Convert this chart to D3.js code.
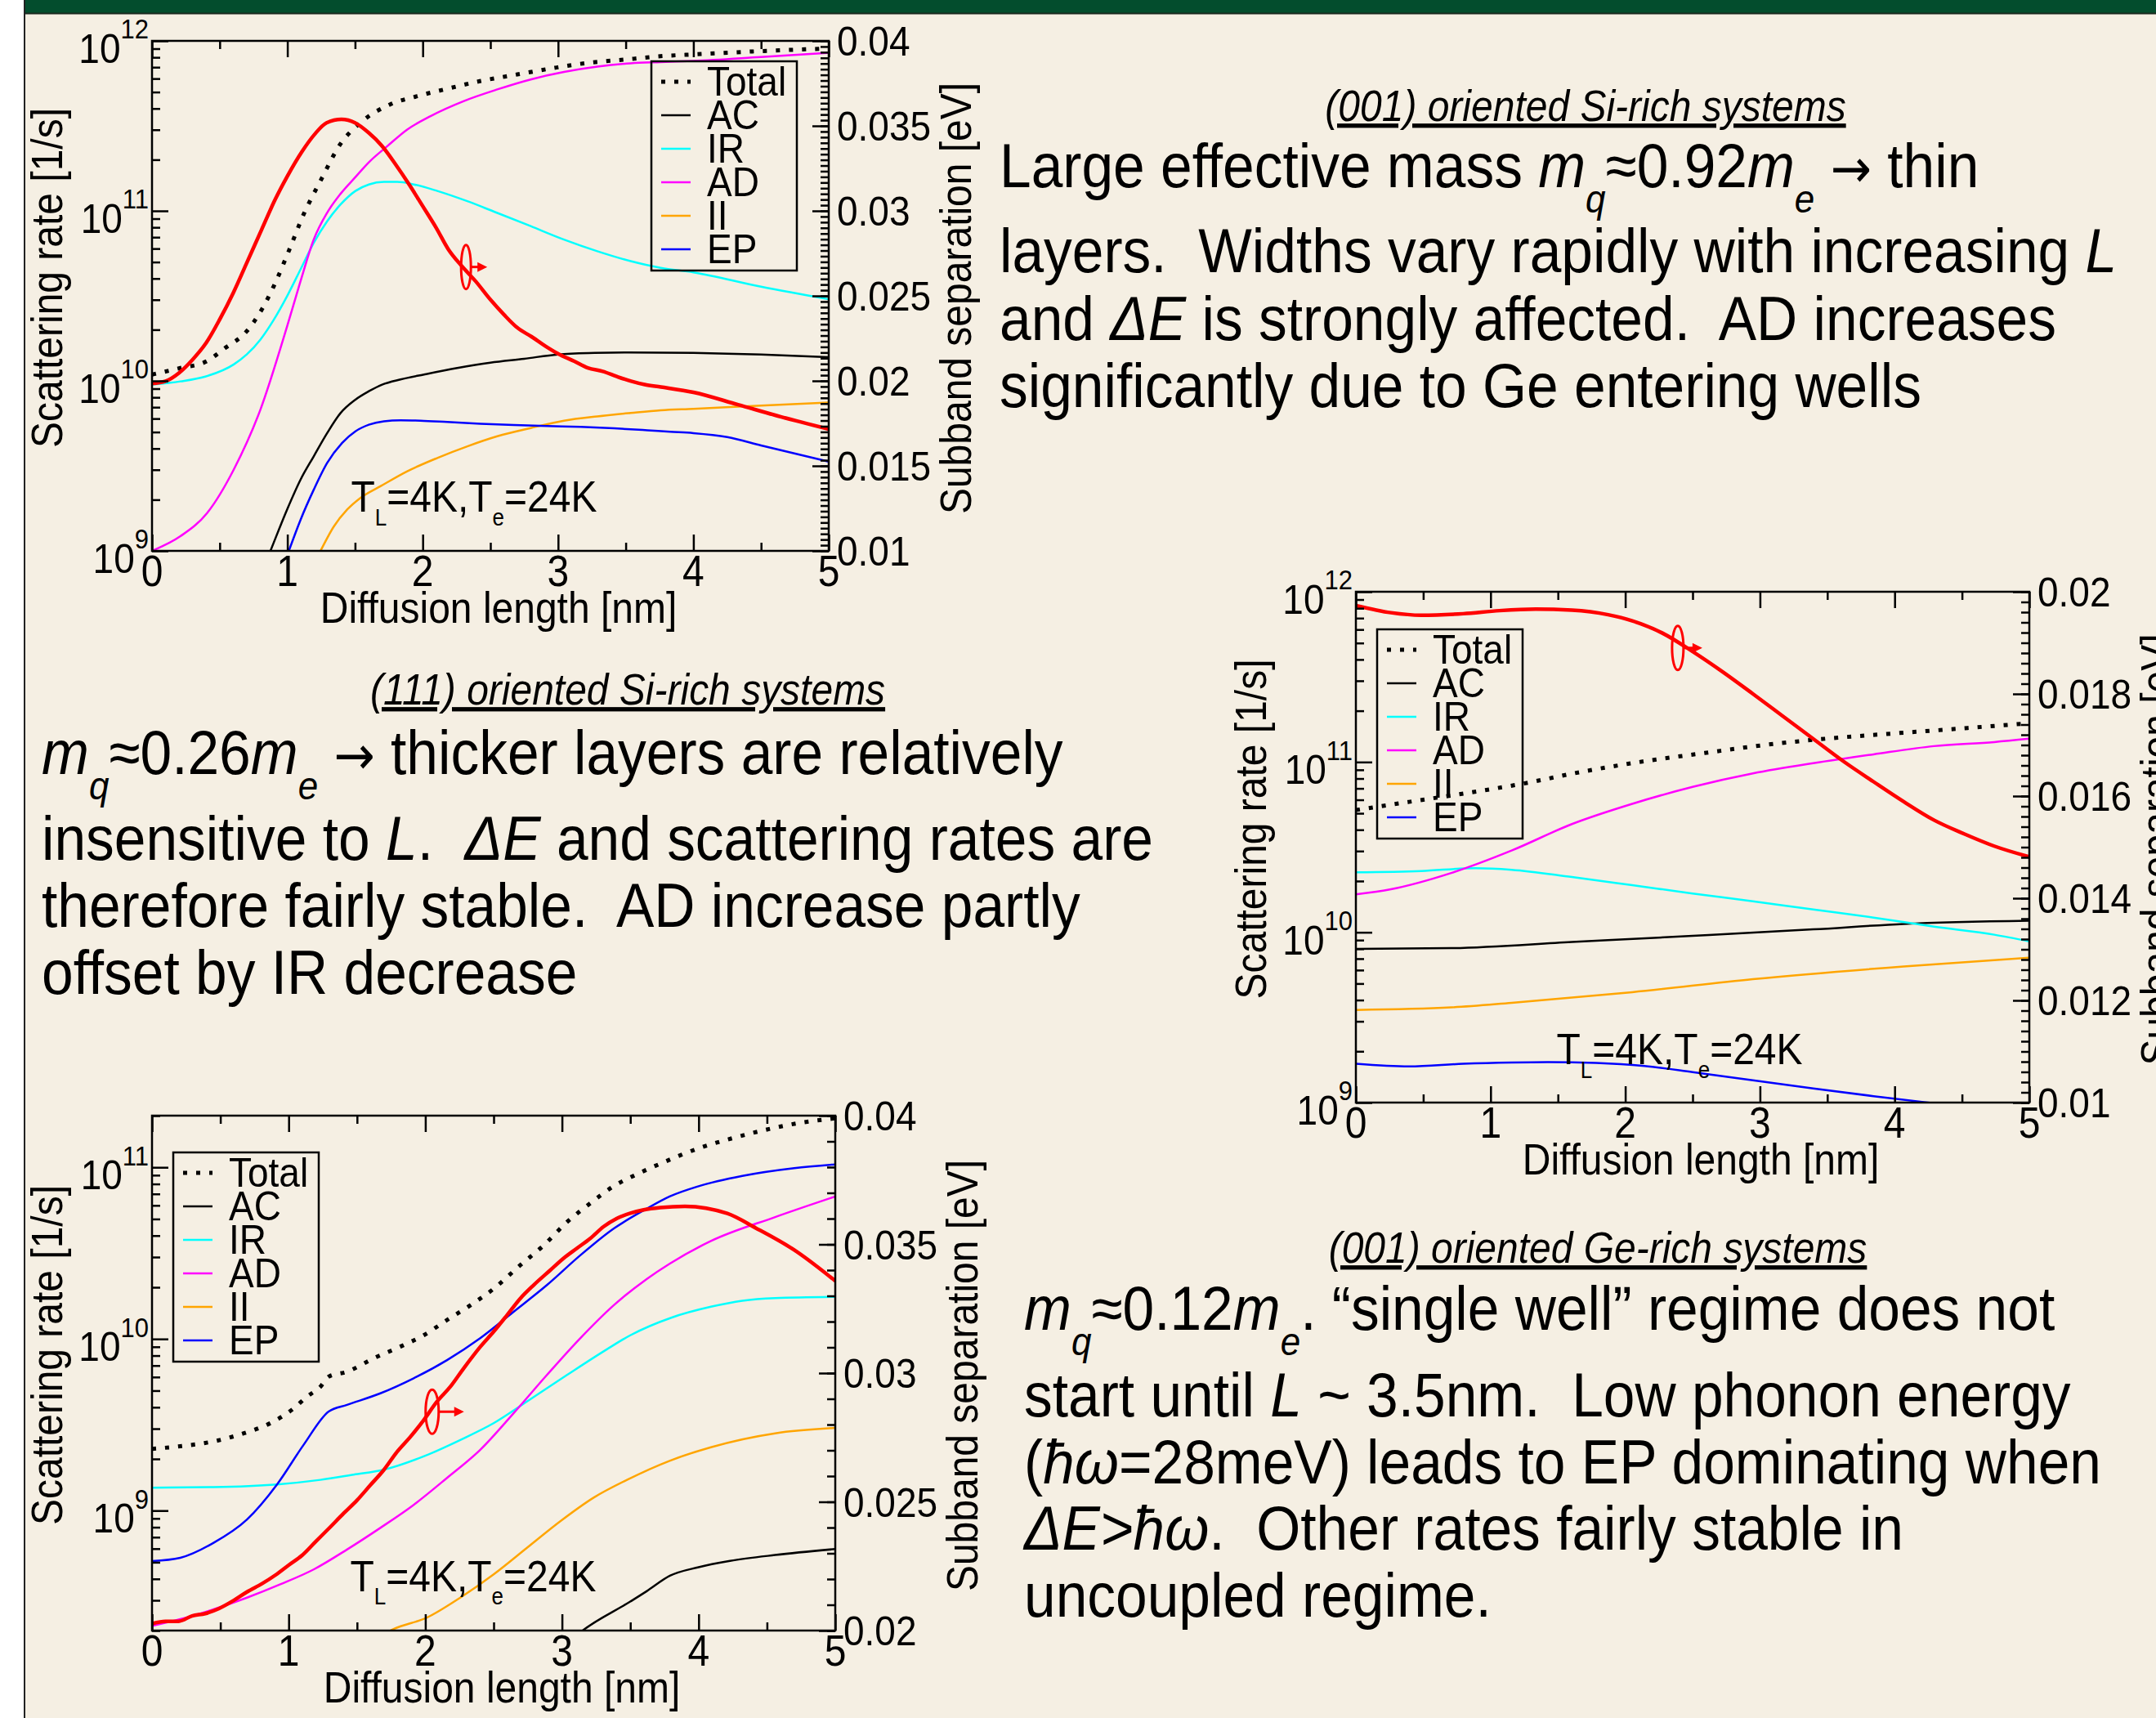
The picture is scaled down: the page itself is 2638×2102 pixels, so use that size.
<!DOCTYPE html>
<html>
<head>
<meta charset="utf-8">
<script src="https://cdn.jsdelivr.net/npm/d3@7"></script>
<style>
  html, body { margin: 0; padding: 0; background: #fff; }
  svg { display: block; font-family: "Liberation Sans", Arial, sans-serif; }
  text { white-space: pre; }
</style>
</head>
<body>
<svg id="poster" width="2638" height="2102"></svg>
<script>
// ---- data (x = diffusion length in nm) ----
const lengthTicks = [0, 1, 2, 3, 4, 5];
const seriesNames = ["Total", "AC", "IR", "AD", "II", "EP"];

// (001) Si-rich : scattering rates [1/s]
const si001Total = [[0,1.09e10],[0.21,1.19e10],[0.4,1.30e10],[0.54,1.56e10],[0.7,1.96e10],[0.81,2.62e10],[0.9,3.61e10],[1.01,5.79e10],[1.12,9.53e10],[1.25,1.53e11],[1.39,2.46e11],[1.54,3.30e11],[1.76,4.23e11],[1.96,4.73e11],[2.16,5.18e11],[2.43,5.81e11],[2.7,6.35e11],[2.98,6.95e11],[3.14,7.28e11],[3.56,7.85e11],[3.78,8.15e11],[4.0,8.32e11],[4.5,8.71e11],[5.0,9.02e11]];
const si001AC = [[0.8,7.1e8],[0.875,1.0e9],[0.998,1.75e9],[1.097,2.62e9],[1.195,3.60e9],[1.294,4.93e9],[1.393,6.47e9],[1.503,7.76e9],[1.602,8.69e9],[1.7,9.51e9],[1.836,1.02e10],[2.01,1.09e10],[2.255,1.19e10],[2.5,1.28e10],[2.75,1.35e10],[3.0,1.43e10],[3.27,1.46e10],[3.51,1.47e10],[4.0,1.46e10],[4.5,1.43e10],[5.0,1.38e10]];
const si001IR = [[0,9.51e9],[0.21,9.93e9],[0.394,1.06e10],[0.604,1.25e10],[0.7,1.43e10],[0.801,1.75e10],[0.9,2.29e10],[0.998,3.15e10],[1.097,4.52e10],[1.195,6.49e10],[1.294,8.69e10],[1.393,1.09e11],[1.503,1.31e11],[1.602,1.43e11],[1.713,1.48e11],[1.812,1.48e11],[1.935,1.43e11],[2.108,1.31e11],[2.33,1.14e11],[2.551,9.73e10],[2.798,8.13e10],[3.044,6.78e10],[3.29,5.79e10],[3.537,5.06e10],[3.759,4.62e10],[4.0,4.35e10],[4.5,3.58e10],[5.0,3.02e10]];
const si001AD = [[0,1.0e9],[0.21,1.22e9],[0.407,1.67e9],[0.604,3.01e9],[0.801,6.78e9],[0.998,2.09e10],[1.097,3.85e10],[1.195,6.79e10],[1.294,9.75e10],[1.393,1.26e11],[1.503,1.58e11],[1.602,1.93e11],[1.738,2.40e11],[1.886,3.01e11],[2.058,3.61e11],[2.305,4.43e11],[2.551,5.18e11],[2.798,5.93e11],[3.044,6.56e11],[3.29,7.05e11],[3.537,7.38e11],[3.759,7.50e11],[4.0,7.62e11],[4.5,8.04e11],[5.0,8.51e11]];
const si001II = [[1.15,7.1e8],[1.245,1.0e9],[1.343,1.39e9],[1.442,1.75e9],[1.54,2.05e9],[1.688,2.40e9],[1.886,2.94e9],[2.108,3.52e9],[2.33,4.12e9],[2.551,4.72e9],[2.798,5.28e9],[3.044,5.83e9],[3.29,6.18e9],[3.537,6.47e9],[3.759,6.71e9],[4.0,6.84e9],[4.5,7.16e9],[5.0,7.46e9]];
const si001EP = [[0.95,7.3e8],[1.011,1.0e9],[1.097,1.52e9],[1.195,2.29e9],[1.294,3.29e9],[1.405,4.32e9],[1.503,5.05e9],[1.602,5.52e9],[1.713,5.78e9],[1.836,5.86e9],[1.984,5.83e9],[2.181,5.73e9],[2.428,5.60e9],[2.674,5.50e9],[2.921,5.42e9],[3.167,5.36e9],[3.414,5.26e9],[3.661,5.12e9],[3.829,5.02e9],[4.0,4.93e9],[4.25,4.67e9],[4.5,4.17e9],[5.0,3.35e9]];
// (001) Si-rich : subband separation [eV]
const si001Gap = [[0,0.01984],[0.1,0.01998],[0.2,0.02047],[0.3,0.02125],[0.4,0.02223],[0.5,0.02361],[0.6,0.02517],[0.7,0.02694],[0.81,0.0289],[0.91,0.03067],[1.0,0.03204],[1.11,0.03351],[1.2,0.03449],[1.29,0.03518],[1.4,0.03538],[1.5,0.03518],[1.6,0.0346],[1.7,0.03381],[1.8,0.03273],[1.9,0.03155],[2.0,0.03028],[2.1,0.029],[2.19,0.02773],[2.29,0.02674],[2.39,0.02587],[2.5,0.02478],[2.6,0.0239],[2.7,0.02312],[2.8,0.02262],[2.91,0.02203],[3.0,0.0216],[3.12,0.02115],[3.22,0.02076],[3.33,0.02056],[3.43,0.02027],[3.54,0.01998],[3.64,0.01978],[3.76,0.01964],[4.0,0.01933],[4.33,0.0186],[4.65,0.01788],[5.0,0.01716]];
const si001GapTicks = [0.01, 0.015, 0.02, 0.025, 0.03, 0.035, 0.04];

// (111) Si-rich
const si111Total = [[0,5.22e10],[0.394,5.83e10],[0.797,6.52e10],[1.246,7.48e10],[1.694,8.81e10],[2.142,1.01e11],[2.59,1.13e11],[3.038,1.26e11],[3.486,1.37e11],[3.934,1.46e11],[4.382,1.55e11],[5.0,1.69e11]];
const si111AC = [[0,7.98e9],[0.708,8.07e9],[1.604,8.77e9],[2.5,9.53e9],[3.396,1.04e10],[4.068,1.12e10],[5.0,1.17e10]];
const si111IR = [[0,2.25e10],[0.484,2.29e10],[0.887,2.38e10],[1.156,2.33e10],[1.604,2.11e10],[2.052,1.89e10],[2.5,1.69e10],[2.948,1.52e10],[3.396,1.36e10],[3.844,1.22e10],[4.292,1.08e10],[4.74,9.68e9],[5.0,8.85e9]];
const si111AD = [[0,1.67e10],[0.26,1.79e10],[0.708,2.23e10],[1.156,3.02e10],[1.604,4.32e10],[2.052,5.68e10],[2.5,7.14e10],[2.948,8.57e10],[3.396,9.84e10],[3.844,1.11e11],[4.292,1.24e11],[4.74,1.31e11],[5.0,1.37e11]];
const si111II = [[0,3.5e9],[0.708,3.62e9],[1.156,3.85e9],[2.052,4.45e9],[2.948,5.3e9],[4.068,6.3e9],[5.0,7.1e9]];
const si111EP = [[0,1.69e9],[0.394,1.63e9],[0.797,1.69e9],[1.156,1.72e9],[1.425,1.73e9],[1.783,1.71e9],[2.142,1.64e9],[2.5,1.51e9],[2.948,1.35e9],[3.396,1.21e9],[3.844,1.09e9],[4.247,1.0e9],[4.6,9.3e8],[5.0,8.7e8]];
const si111Gap = [[0,0.01973],[0.26,0.01959],[0.484,0.01954],[0.797,0.01957],[1.066,0.01963],[1.335,0.01966],[1.604,0.01964],[1.873,0.01955],[2.052,0.01943],[2.276,0.01919],[2.5,0.01883],[2.724,0.01843],[2.948,0.018],[3.172,0.01756],[3.396,0.01712],[3.62,0.01668],[3.844,0.01628],[4.068,0.01589],[4.292,0.01553],[4.516,0.01526],[4.74,0.01502],[5.0,0.01481]];
const si111GapTicks = [0.01, 0.012, 0.014, 0.016, 0.018, 0.02];

// (001) Ge-rich
const ge001Total = [[0,2.29e9],[0.207,2.37e9],[0.451,2.53e9],[0.671,2.82e9],[0.866,3.23e9],[1.037,3.94e9],[1.134,4.61e9],[1.232,5.27e9],[1.293,6.03e9],[1.427,6.44e9],[1.622,7.71e9],[1.817,9.02e9],[1.988,1.05e10],[2.159,1.29e10],[2.329,1.57e10],[2.5,1.96e10],[2.695,2.69e10],[2.866,3.51e10],[3.037,4.80e10],[3.207,6.17e10],[3.378,7.76e10],[3.549,9.12e10],[3.72,1.05e11],[4.0,1.29e11],[4.25,1.48e11],[4.5,1.66e11],[4.75,1.82e11],[5.0,1.93e11]];
const ge001AC = [[3.0,1.58e8],[3.14,1.97e8],[3.5,2.95e8],[3.62,3.39e8],[3.79,4.17e8],[4.0,4.68e8],[4.23,5.09e8],[4.56,5.51e8],[5.0,5.97e8]];
const ge001IR = [[0,1.36e9],[0.451,1.37e9],[0.915,1.42e9],[1.232,1.51e9],[1.476,1.62e9],[1.695,1.73e9],[1.988,2.07e9],[2.256,2.58e9],[2.5,3.23e9],[2.744,4.32e9],[3.037,6.17e9],[3.329,8.71e9],[3.5,1.05e10],[3.8,1.33e10],[4.09,1.54e10],[4.32,1.67e10],[4.56,1.73e10],[5.0,1.76e10]];
const ge001AD = [[0,2.13e8],[0.207,2.33e8],[0.451,2.66e8],[0.695,3.11e8],[0.939,3.72e8],[1.183,4.54e8],[1.427,5.93e8],[1.671,7.93e8],[1.915,1.08e9],[2.159,1.55e9],[2.402,2.26e9],[2.646,3.69e9],[2.89,6.17e9],[3.134,1.01e10],[3.378,1.57e10],[3.622,2.24e10],[3.79,2.75e10],[4.09,3.72e10],[4.56,5.13e10],[5.0,6.76e10]];
const ge001II = [[1.6,1.7e8],[1.768,2.04e8],[2.012,2.38e8],[2.256,3.11e8],[2.5,4.25e8],[2.744,6.07e8],[2.988,8.67e8],[3.232,1.19e9],[3.476,1.51e9],[3.788,1.95e9],[4.09,2.34e9],[4.56,2.82e9],[5.0,3.03e9]];
const ge001EP = [[0,5.08e8],[0.207,5.31e8],[0.451,6.49e8],[0.695,8.87e8],[0.915,1.42e9],[1.11,2.42e9],[1.293,3.78e9],[1.427,4.13e9],[1.671,4.82e9],[1.915,5.90e9],[2.159,7.53e9],[2.402,1.01e10],[2.646,1.44e10],[2.89,2.06e10],[3.134,3.07e10],[3.378,4.39e10],[3.622,5.75e10],[3.788,6.76e10],[4.0,7.76e10],[4.32,8.91e10],[4.7,9.89e10],[5.0,1.04e11]];
const ge001Gap = [[0,0.02027],[0.098,0.02036],[0.195,0.02036],[0.293,0.02057],[0.39,0.02066],[0.488,0.02085],[0.598,0.02117],[0.695,0.0215],[0.805,0.02182],[0.902,0.02215],[1.0,0.02254],[1.098,0.02292],[1.195,0.02344],[1.293,0.02396],[1.402,0.02455],[1.5,0.02506],[1.598,0.02565],[1.695,0.02623],[1.793,0.02694],[1.89,0.02752],[1.988,0.02817],[2.085,0.02889],[2.183,0.02947],[2.28,0.03018],[2.402,0.03102],[2.5,0.03161],[2.598,0.03225],[2.695,0.0329],[2.793,0.03342],[2.915,0.034],[3.012,0.03446],[3.11,0.03485],[3.207,0.03523],[3.305,0.03569],[3.402,0.03601],[3.5,0.03621],[3.598,0.03634],[3.72,0.03643],[3.9,0.03648],[4.21,0.0362],[4.42,0.03563],[4.7,0.03478],[5.0,0.03358]];
const ge001GapTicks = [0.02, 0.025, 0.03, 0.035, 0.04];

// text of the three explanation blocks: [string, "i" italic / "s" subscript / "a" arrow]
const noteSi001 = {
  heading: "(001) oriented Si-rich systems",
  lines: [
    [["Large effective mass "], ["m","i"], ["q","is"], ["\u22480.92"], ["m","i"], ["e","is"], [" "], ["\u2192","a"], [" thin"]],
    [["layers.  Widths vary rapidly with increasing "], ["L","i"]],
    [["and "], ["\u0394E","i"], [" is strongly affected.  AD increases"]],
    [["significantly due to Ge entering wells"]]
  ]
};
const noteSi111 = {
  heading: "(111) oriented Si-rich systems",
  lines: [
    [["m","i"], ["q","is"], ["\u22480.26"], ["m","i"], ["e","is"], [" "], ["\u2192","a"], [" thicker layers are relatively"]],
    [["insensitive to "], ["L","i"], [".  "], ["\u0394E","i"], [" and scattering rates are"]],
    [["therefore fairly stable.  AD increase partly"]],
    [["offset by IR decrease"]]
  ]
};
const noteGe001 = {
  heading: "(001) oriented Ge-rich systems",
  lines: [
    [["m","i"], ["q","is"], ["\u22480.12"], ["m","i"], ["e","is"], [". \u201csingle well\u201d regime does not"]],
    [["start until "], ["L","i"], [" ~ 3.5nm.  Low phonon energy"]],
    [["("], ["\u0127\u03c9","i"], ["=28meV) leads to EP dominating when"]],
    [["\u0394E>\u0127\u03c9","i"], [".  Other rates fairly stable in"]],
    [["uncoupled regime."]]
  ]
};

// ---- drawing ----
const W = 2638, H = 2102;
const svg = d3.select("#poster");
const lineColors = ["#000000", "#000000", "#00ffff", "#ff00ff", "#ffa500", "#0000ff"];
const gapColor = "#ff0000";
// the poster's lettering is a little taller than plain Arial
const stretch = 1.1;
const at = (x, y, rot) => `translate(${x},${y})` + (rot ? ` rotate(${rot})` : "") + ` scale(1,${stretch})`;

// page background, title bar and left rule
svg.append("rect").attr("width", W).attr("height", H).attr("fill", "#ffffff");
svg.append("rect").attr("x", 30).attr("width", W - 30).attr("height", H).attr("fill", "#f5efe3");
svg.append("rect").attr("x", 30).attr("width", W - 30).attr("height", 16).attr("fill", "#034d2d");
svg.append("line").attr("x1", 30).attr("x2", W).attr("y1", 16.5).attr("y2", 16.5)
    .attr("stroke", "#1c2a20").attr("stroke-width", 2);
svg.append("line").attr("x1", 30).attr("x2", 30).attr("y1", 0).attr("y2", H)
    .attr("stroke", "#222").attr("stroke-width", 2);

function drawPanel(cfg) {
    const f = cfg.frame;
    const g = svg.append("g").attr("transform", `translate(${f.left},${f.top})`);

    const x = d3.scaleLinear().domain([0, 5]).range([0, f.width]);
    const y = d3.scaleLog().domain(cfg.rateDomain).range([f.height, 0]);
    const y2 = d3.scaleLinear().domain(cfg.gapDomain).range([f.height, 0]);

    g.append("clipPath").attr("id", cfg.id + "-clip")
        .append("rect").attr("width", f.width).attr("height", f.height);
    const plot = g.append("g").attr("clip-path", `url(#${cfg.id}-clip)`);

    const rateLine = d3.line().curve(d3.curveMonotoneX)
        .x(d => x(d[0])).y(d => y(d[1]));
    const gapLine = d3.line().curve(d3.curveMonotoneX)
        .x(d => x(d[0])).y(d => y2(d[1]));

    plot.selectAll("path.rate")
        .data(cfg.rates)
        .join("path")
        .attr("class", "rate")
        .attr("fill", "none")
        .attr("stroke", (d, i) => lineColors[i])
        .attr("stroke-width", (d, i) => i === 0 ? 5 : 2.5)
        .attr("stroke-dasharray", (d, i) => i === 0 ? "5,11" : null)
        .attr("d", rateLine);

    // the subband separation, read on the right axis
    plot.append("path")
        .attr("fill", "none")
        .attr("stroke", gapColor)
        .attr("stroke-width", 4.5)
        .attr("stroke-linejoin", "round")
        .attr("d", gapLine(cfg.gap));

    // ticks, all pointing into the frame
    const strip = sel => { sel.select(".domain").remove(); sel.selectAll("line").attr("stroke", "#000").attr("stroke-width", 2.5); };
    const minorX = d3.range(0.5, 5, 1);
    g.append("g").attr("transform", `translate(0,${f.height})`)
        .call(d3.axisBottom(x).tickValues(lengthTicks).tickSize(-20).tickFormat("")).call(strip);
    g.append("g").attr("transform", `translate(0,${f.height})`)
        .call(d3.axisBottom(x).tickValues(minorX).tickSize(-10).tickFormat("")).call(strip);
    g.append("g")
        .call(d3.axisTop(x).tickValues(lengthTicks).tickSize(-20).tickFormat("")).call(strip);
    g.append("g")
        .call(d3.axisTop(x).tickValues(minorX).tickSize(-10).tickFormat("")).call(strip);

    const isDecade = v => Math.abs(Math.log10(v) - Math.round(Math.log10(v))) < 1e-9;
    const decades = y.ticks().filter(isDecade);
    const minorRates = y.ticks().filter(v => !isDecade(v));
    g.append("g")
        .call(d3.axisLeft(y).tickValues(decades).tickSize(-20).tickFormat("")).call(strip);
    g.append("g")
        .call(d3.axisLeft(y).tickValues(minorRates).tickSize(-10).tickFormat("")).call(strip);

    const minorGap = d3.range(cfg.gapMinorCount + 1)
        .map(i => cfg.gapDomain[0] + i * (cfg.gapDomain[1] - cfg.gapDomain[0]) / cfg.gapMinorCount);
    g.append("g").attr("transform", `translate(${f.width},0)`)
        .call(d3.axisRight(y2).tickValues(cfg.gapTicks).tickSize(-20).tickFormat("")).call(strip);
    g.append("g").attr("transform", `translate(${f.width},0)`)
        .call(d3.axisRight(y2).tickValues(minorGap).tickSize(-10).tickFormat("")).call(strip);

    g.append("rect")
        .attr("width", f.width).attr("height", f.height)
        .attr("fill", "none").attr("stroke", "#000").attr("stroke-width", 2.5);

    // tick labels
    g.append("g").selectAll("text")
        .data(lengthTicks)
        .join("text")
        .attr("transform", d => at(x(d), f.height + 43))
        .attr("text-anchor", "middle")
        .attr("font-size", 48)
        .text(d => d);

    const rateLabels = g.append("g").selectAll("text")
        .data(decades)
        .join("text")
        .attr("transform", d => at(-4, y(d) + 27))
        .attr("text-anchor", "end")
        .attr("font-size", 46);
    rateLabels.append("tspan").text("10");
    rateLabels.append("tspan").attr("font-size", 31).attr("dy", -27)
        .text(d => Math.round(Math.log10(d)));

    g.append("g").selectAll("text")
        .data(cfg.gapTicks)
        .join("text")
        .attr("transform", d => at(f.width + 10, y2(d) + 18))
        .attr("font-size", 46)
        .text(d => d);

    // axis titles
    g.append("text")
        .attr("transform", at(f.width / 2 + 10, f.height + 88))
        .attr("text-anchor", "middle").attr("font-size", 48)
        .text("Diffusion length [nm]");
    g.append("text")
        .attr("transform", at(-110, f.height / 2 - 22, -90))
        .attr("text-anchor", "middle").attr("font-size", 48)
        .text("Scattering rate [1/s]");
    g.append("text")
        .attr("transform", at(f.width + 174, f.height / 2 + 3, -90))
        .attr("text-anchor", "middle").attr("font-size", 48)
        .text("Subband separation [eV]");

    // legend
    const lg = g.append("g").attr("transform", `translate(${cfg.legend.x},${cfg.legend.y})`);
    lg.append("rect").attr("width", 178).attr("height", 256)
        .attr("fill", "none").attr("stroke", "#000").attr("stroke-width", 2.5);
    const rows = lg.selectAll("g.row")
        .data(seriesNames)
        .join("g")
        .attr("class", "row")
        .attr("transform", (d, i) => `translate(0,${25 + i * 41})`);
    rows.append("line")
        .attr("x1", 12).attr("x2", 48)
        .attr("stroke", (d, i) => lineColors[i])
        .attr("stroke-width", (d, i) => i === 0 ? 5 : 2.5)
        .attr("stroke-dasharray", (d, i) => i === 0 ? "5,11" : null);
    rows.append("text")
        .attr("transform", at(68, 17))
        .attr("font-size", 46)
        .text(d => d);

    // temperature note
    const note = g.append("text")
        .attr("transform", at(x(cfg.note.x), y(cfg.note.rate)))
        .attr("font-size", 48);
    note.append("tspan").text("T");
    note.append("tspan").attr("font-size", 26).attr("dy", 15).text("L");
    note.append("tspan").attr("dy", -15).text("=4K,T");
    note.append("tspan").attr("font-size", 26).attr("dy", 15).text("e");
    note.append("tspan").attr("dy", -15).text("=24K");

    // marker: this curve belongs to the right axis
    const mx = x(cfg.marker.x), my = y2(cfg.marker.gap);
    g.append("ellipse")
        .attr("cx", mx).attr("cy", my).attr("rx", cfg.marker.rx).attr("ry", 27)
        .attr("fill", "none").attr("stroke", gapColor).attr("stroke-width", 3);
    g.append("line")
        .attr("x1", mx + cfg.marker.rx).attr("x2", mx + cfg.marker.arrow - 8)
        .attr("y1", my).attr("y2", my)
        .attr("stroke", gapColor).attr("stroke-width", 3);
    g.append("path")
        .attr("d", `M${mx + cfg.marker.arrow},${my} l-12,-6 l0,12 z`)
        .attr("fill", gapColor);
}

drawPanel({
    id: "si001",
    frame: {left: 186, top: 50, width: 828, height: 624},
    rateDomain: [1e9, 1e12],
    gapDomain: [0.01, 0.04],
    gapTicks: si001GapTicks,
    gapMinorCount: 90,
    rates: [si001Total, si001AC, si001IR, si001AD, si001II, si001EP],
    gap: si001Gap,
    legend: {x: 611, y: 25},
    note: {x: 1.47, rate: 1.7e9},
    marker: {x: 2.32, gap: 0.0267, rx: 6, arrow: 26}
});

drawPanel({
    id: "si111",
    frame: {left: 1659, top: 724, width: 824, height: 625},
    rateDomain: [1e9, 1e12],
    gapDomain: [0.01, 0.02],
    gapTicks: si111GapTicks,
    gapMinorCount: 50,
    rates: [si111Total, si111AC, si111IR, si111AD, si111II, si111EP],
    gap: si111Gap,
    legend: {x: 26, y: 46},
    note: {x: 1.49, rate: 1.68e9},
    marker: {x: 2.39, gap: 0.0189, rx: 7, arrow: 30}
});

drawPanel({
    id: "ge001",
    frame: {left: 186, top: 1365, width: 836, height: 630},
    rateDomain: [2e8, 2e11],
    gapDomain: [0.02, 0.04],
    gapTicks: ge001GapTicks,
    gapMinorCount: 20,
    rates: [ge001Total, ge001AC, ge001IR, ge001AD, ge001II, ge001EP],
    gap: ge001Gap,
    legend: {x: 26, y: 45},
    note: {x: 1.45, rate: 3.4e8},
    marker: {x: 2.05, gap: 0.0285, rx: 8, arrow: 39}
});

// ---- explanation blocks ----
function writeBlock(block, pos) {
    svg.append("text")
        .attr("transform", at(pos.headingX, pos.headingY))
        .attr("text-anchor", "middle")
        .attr("font-size", 48)
        .attr("font-style", "italic")
        .style("text-decoration", "underline")
        .text(block.heading);

    block.lines.forEach((segs, k) => {
        const t = svg.append("text")
            .attr("transform", at(pos.x, pos.baselines[k]))
            .attr("font-size", 69.5);
        let shift = 0;
        segs.forEach(([str, style = ""]) => {
            const sub = style.includes("s");
            const target = sub ? 28 : 0;
            const sp = t.append("tspan").attr("dy", target - shift).text(str);
            if (style.includes("i")) sp.attr("font-style", "italic");
            if (style.includes("a")) sp.attr("font-family", "DejaVu Sans").attr("font-size", 60);
            if (sub) sp.attr("font-size", 44);
            shift = target;
        });
    });
}

writeBlock(noteSi001, {headingX: 1940, headingY: 148, x: 1223, baselines: [229, 333, 416, 498]});
writeBlock(noteSi111, {headingX: 768, headingY: 862, x: 51, baselines: [947, 1052, 1134, 1216]});
writeBlock(noteGe001, {headingX: 1955, headingY: 1545, x: 1253, baselines: [1627, 1733, 1815, 1896, 1978]});
</script>
</body>
</html>
